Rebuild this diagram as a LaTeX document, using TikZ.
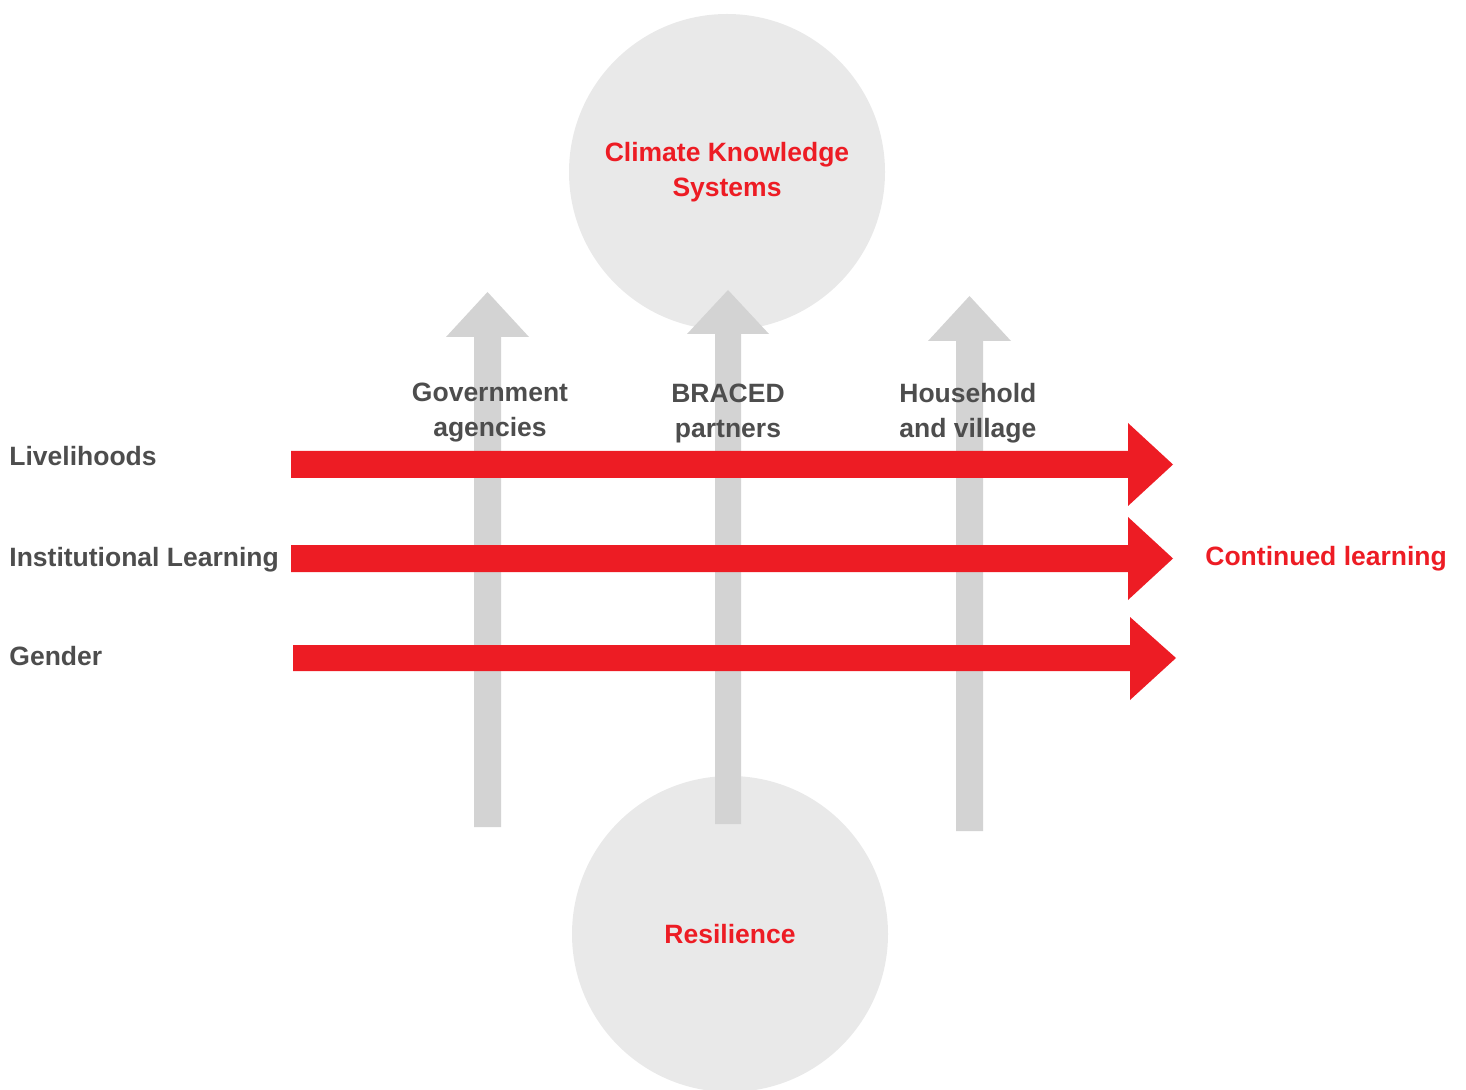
\documentclass[tikz,border=0pt]{standalone}
\usepackage{fontspec}
\setmainfont{Liberation Sans}
\definecolor{bracedred}{HTML}{ED1C24}
\definecolor{labelgray}{HTML}{4D4D4D}
\definecolor{circlegray}{HTML}{E9E9E9}
\definecolor{arrowgray}{HTML}{D3D3D3}
\newcommand{\diagfont}{\fontsize{13.25pt}{17.5pt}\selectfont\bfseries}
\tikzset{
    bigcircle/.style={circle, fill=circlegray, minimum size=158pt, inner sep=0pt,
        text=bracedred, align=center, font=\diagfont},
    grayarrow/.style={fill=arrowgray},
    redarrow/.style={fill=bracedred},
    rowlabel/.style={text=labelgray, font=\diagfont, inner sep=0pt, anchor=base west},
    colabel/.style={text=labelgray, font=\diagfont, inner sep=0pt},
}

\begin{document}
\begin{tikzpicture}[x=0.5pt, y=-0.5pt]
    \useasboundingbox (0,0) rectangle (1466,1090);

    % circles
    \node[bigcircle] (cks) at (727,172) {Climate Knowledge\\Systems};
    \node[bigcircle] (res) at (730,934) {Resilience};

    % gray arrows going up
    \fill[grayarrow] (474,827) -- (474,337) -- (446,337) -- (487.5,292) -- (529,337) -- (501,337) -- (501,827) -- cycle;
    \fill[grayarrow] (715,824) -- (715,334) -- (687,334) -- (728,290) -- (769,334) -- (741,334) -- (741,824) -- cycle;
    \fill[grayarrow] (956,831) -- (956,341) -- (928,341) -- (969.5,296) -- (1011,341) -- (983,341) -- (983,831) -- cycle;

    % red arrows going right
    \fill[redarrow] (291,451) -- (1128,451) -- (1128,423) -- (1173,464.5) -- (1128,506) -- (1128,478) -- (291,478) -- cycle;
    \fill[redarrow] (291,545) -- (1128,545) -- (1128,517) -- (1173,558.5) -- (1128,600) -- (1128,572) -- (291,572) -- cycle;
    \fill[redarrow] (293,645) -- (1130,645) -- (1130,617) -- (1176,658) -- (1130,700) -- (1130,671) -- (293,671) -- cycle;

    % labels
    \node[colabel, align=center] (gov) at (490,413) {Government\\agencies};
    \node[colabel, align=center] (braced) at (728,413) {BRACED\\partners};
    \node[colabel, align=left, anchor=west] (house) at (899,413) {Household\\and village};

    \node[rowlabel] (liv) at (9,466) {Livelihoods};
    \node[rowlabel] (inst) at (9,567) {Institutional Learning};
    \node[rowlabel] (gen) at (9,665) {Gender};
    \node[rowlabel, text=bracedred] (cont) at (1205,566) {Continued learning};
\end{tikzpicture}
\end{document}
